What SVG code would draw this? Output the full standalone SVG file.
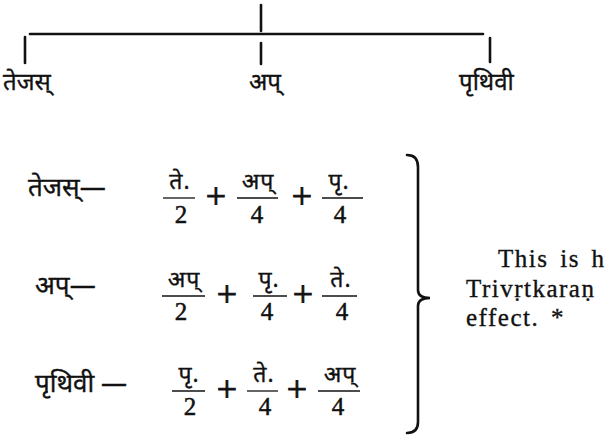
<svg xmlns="http://www.w3.org/2000/svg" width="607" height="442" viewBox="0 0 607 442">
<style>
.ln{stroke:#111;stroke-width:2.6;fill:none;stroke-linecap:round}
.fl{stroke:#111;stroke-width:1.3}
.dv{font-family:"Noto Sans","Noto Sans Devanagari","Lohit Devanagari","FreeSans",sans-serif;fill:#111;stroke:#111;stroke-width:0.35}
.tp{font-size:24px}
.lb{font-size:26px}
.nm{font-size:23px;text-anchor:middle;letter-spacing:1px}
.dg{font-family:"Liberation Serif",serif;font-size:25px;text-anchor:middle;fill:#111;stroke:#111;stroke-width:0.5}
.pl{font-family:"Liberation Serif",serif;font-size:36px;text-anchor:middle;fill:#111;stroke:#111;stroke-width:0.9}
.tx{font-family:"Liberation Serif",serif;font-size:25px;fill:#111;stroke:#111;stroke-width:0.35;word-spacing:4px;letter-spacing:1.5px}
</style>
<g id="connectors">
<line class="ln" x1="261" y1="5" x2="261" y2="31"/>
<line class="ln" x1="30" y1="34" x2="483" y2="34"/>
<line class="ln" x1="25" y1="37" x2="25" y2="63"/>
<line class="ln" x1="261" y1="43" x2="261" y2="64"/>
<line class="ln" x1="490" y1="38" x2="490" y2="62"/>
</g>
<g id="node-tejas"><text class="dv tp" x="3" y="90">तेजस्</text></g>
<g id="node-ap"><text class="dv tp" x="249" y="90">अप्</text></g>
<g id="node-prthivi"><text class="dv tp" x="459" y="90">पृथिवी</text></g>

<g id="row1">
<text class="dv lb" x="28" y="196">तेजस्—</text>
<text class="dv nm" x="180" y="189">ते.</text><line class="fl" x1="163" y1="198" x2="195" y2="198"/><text class="dg" x="181" y="223">2</text>
<text class="pl" x="216" y="208">+</text>
<text class="dv nm" x="258" y="189">अप्</text><line class="fl" x1="237" y1="198" x2="278" y2="198"/><text class="dg" x="257" y="223">4</text>
<text class="pl" x="302" y="208">+</text>
<text class="dv nm" x="339" y="189">पृ.</text><line class="fl" x1="322" y1="198" x2="363" y2="198"/><text class="dg" x="340" y="223">4</text>
</g>
<g id="row2">
<text class="dv lb" x="35" y="294">अप्—</text>
<text class="dv nm" x="184" y="287">अप्</text><line class="fl" x1="162" y1="296" x2="205" y2="296"/><text class="dg" x="181" y="320">2</text>
<text class="pl" x="227" y="306">+</text>
<text class="dv nm" x="269" y="287">पृ.</text><line class="fl" x1="253" y1="296" x2="287" y2="296"/><text class="dg" x="267" y="320">4</text>
<text class="pl" x="303" y="306">+</text>
<text class="dv nm" x="341" y="287">ते.</text><line class="fl" x1="322" y1="296" x2="357" y2="296"/><text class="dg" x="342" y="320">4</text>
</g>
<g id="row3">
<text class="dv lb" x="35" y="392">पृथिवी —</text>
<text class="dv nm" x="189" y="382">पृ.</text><line class="fl" x1="172" y1="391" x2="205" y2="391"/><text class="dg" x="190" y="415">2</text>
<text class="pl" x="227" y="401">+</text>
<text class="dv nm" x="264" y="382">ते.</text><line class="fl" x1="247" y1="391" x2="278" y2="391"/><text class="dg" x="265" y="415">4</text>
<text class="pl" x="297" y="401">+</text>
<text class="dv nm" x="340" y="382">अप्</text><line class="fl" x1="318" y1="391" x2="360" y2="391"/><text class="dg" x="338" y="415">4</text>
</g>
<g id="brace"><path class="ln" d="M407,155 Q418,155 418,167 L418,290 Q418,298 430,298 Q418,298 418,306 L418,422 Q418,433 407,433"/></g>
<g id="note">
<text class="tx" x="498" y="267">This is h</text>
<text class="tx" x="466" y="297">Trivṛtkaraṇ</text>
<text class="tx" x="466" y="326">effect. *</text>
</g>
</svg>
